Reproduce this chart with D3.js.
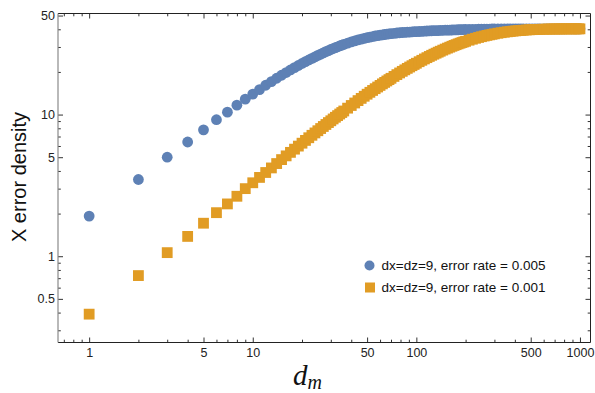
<!DOCTYPE html>
<html><head><meta charset="utf-8">
<script src="https://cdn.jsdelivr.net/npm/d3@7"></script>
<style>body{margin:0;background:#fff}</style>
</head><body><svg id="c" width="595" height="393"></svg>
<script>
// d_m values (integers, denser where the points separate)
const dm = [1,2,3,4,5,6,7,8,9,10,11,12,13,14,15,16,17,18,19,20,21,22,23,24,25,26,27,28,29,30,31,32,33,34,35,36,
  38,40,42,44,46,48,50,52,54,56,58,60,62,64,66,68,70,
  73,76,79,82,85,88,91,94,97,100,
  104,108,112,116,120,124,128,132,136,140,
  145,150,155,160,165,170,175,180,185,190,195,200,
  210,220,230,240,250,260,270,280,290,300,
  315,330,345,360,375,390,405,420,435,450,
  470,490,510,530,550,570,600,
  625,650,675,700,725,750,775,800,
  830,860,890,920,950,980,1000];
// X error density, error rate 0.005
const rate005 = [1.92,3.48,5.0,6.4,7.8,9.2,10.4,11.65,12.85,13.95,15.0,16.1,17.1,18.05,18.95,19.8,20.65,21.45,22.2,22.95,23.65,24.3,24.95,25.55,26.15,26.7,27.25,27.8,28.3,28.8,29.25,29.7,30.1,30.5,30.9,31.25,
  31.95,32.6,33.15,33.65,34.1,34.5,34.9,35.25,35.55,35.85,36.1,36.35,36.55,36.75,36.95,37.1,37.25,
  37.45,37.65,37.8,37.95,38.05,38.15,38.25,38.35,38.45,38.5,
  38.6,38.7,38.8,38.9,38.95,39.05,39.1,39.15,39.2,39.3,
  39.35,39.4,39.45,39.5,39.55,39.6,39.65,39.7,39.75,39.8,39.8,39.85,
  39.9,39.95,40.0,40.05,40.1,40.1,40.15,40.15,40.2,40.2,
  40.2,40.25,40.25,40.25,40.25,40.3,40.3,40.3,40.3,40.3,
  40.3,40.3,40.3,40.3,40.3,40.3,40.3,
  40.3,40.3,40.3,40.3,40.3,40.3,40.3,40.3,
  40.3,40.3,40.3,40.3,40.3,40.3,40.3];
// X error density, error rate 0.001
const rate001 = [0.39,0.73,1.06,1.38,1.71,2.03,2.34,2.65,3.0,3.3,3.6,3.9,4.2,4.51,4.81,5.11,5.41,5.7,5.99,6.28,6.57,6.86,7.14,7.42,7.69,7.97,8.24,8.51,8.78,9.04,9.31,9.57,9.83,10.09,10.34,10.6,
  11.1,11.59,12.07,12.55,13.01,13.47,13.92,14.36,14.8,15.23,15.65,16.06,16.47,16.87,17.27,17.65,18.03,
  18.59,19.14,19.67,20.19,20.69,21.19,21.66,22.13,22.58,23.03,
  23.61,24.16,24.7,25.22,25.72,26.21,26.68,27.13,27.57,28.0,
  28.51,29.0,29.46,29.91,30.35,30.76,31.15,31.54,31.9,32.25,32.58,32.9,
  33.5,34.05,34.56,35.03,35.46,35.85,36.21,36.54,36.85,37.13,
  37.51,37.84,38.14,38.39,38.62,38.82,39.0,39.15,39.29,39.41,
  39.55,39.67,39.76,39.85,39.92,39.98,40.05,
  40.1,40.14,40.17,40.19,40.21,40.23,40.24,40.25,
  40.26,40.27,40.28,40.28,40.29,40.29,40.29];

const seriesNames = ["dx=dz=9, error rate = 0.005", "dx=dz=9, error rate = 0.001"];
const seriesColors = ["#5E81B5", "#E19C24"];

const xMajor = [1,5,10,50,100,500,1000];
const xMinor = [0.7,0.8,0.9,2,3,4,6,7,8,9,20,30,40,60,70,80,90,200,300,400,600,700,800,900];
const yMajor = [0.5,1,5,10,50];
const yMinor = [0.3,0.4,0.6,0.7,0.8,0.9,2,3,4,6,7,8,9,20,30,40];

const L = 58, R = 590.5, T = 13.5, B = 342.5;
const svg = d3.select("#c");
const x = d3.scaleLog().domain([0.645, 1160]).range([L, R]);
const y = d3.scaleLog().domain([0.246, 51.7]).range([B, T]);

const font = "'Liberation Sans', Arial, Helvetica, sans-serif";
const fmt = d => String(d);

const data005 = dm.map((d, i) => ({d, v: rate005[i]}));
const data001 = dm.map((d, i) => ({d, v: rate001[i]}));

svg.append("clipPath").attr("id", "clip").append("rect")
  .attr("x", L).attr("y", T).attr("width", R - L).attr("height", B - T);
const plot = svg.append("g").attr("clip-path", "url(#clip)");

plot.append("g").selectAll("circle").data(data005).join("circle")
  .attr("cx", p => x(p.d)).attr("cy", p => y(p.v)).attr("r", 5.4)
  .attr("fill", seriesColors[0]);

const s = 10.8;
plot.append("g").selectAll("rect").data(data001).join("rect")
  .attr("x", p => x(p.d) - s/2).attr("y", p => y(p.v) - s/2)
  .attr("width", s).attr("height", s)
  .attr("fill", seriesColors[1]);

function styleAxis(g) {
  g.select(".domain").remove();
  g.selectAll(".tick line").attr("stroke", "#333");
  g.selectAll(".tick text").attr("fill", "#222").style("font-family", font).style("font-size", "12.5px");
}
svg.append("g").attr("transform", `translate(0,${B})`)
  .call(d3.axisBottom(x).tickValues(xMajor).tickFormat(fmt).tickSize(-5).tickPadding(6)).call(styleAxis);
svg.append("g").attr("transform", `translate(0,${B})`)
  .call(d3.axisBottom(x).tickValues(xMinor).tickFormat("").tickSize(-2.8)).call(styleAxis);
svg.append("g").attr("transform", `translate(0,${T})`)
  .call(d3.axisTop(x).tickValues(xMajor).tickFormat("").tickSize(-5)).call(styleAxis);
svg.append("g").attr("transform", `translate(0,${T})`)
  .call(d3.axisTop(x).tickValues(xMinor).tickFormat("").tickSize(-2.8)).call(styleAxis);
svg.append("g").attr("transform", `translate(${L},0)`)
  .call(d3.axisLeft(y).tickValues(yMajor).tickFormat(fmt).tickSize(-5).tickPadding(3)).call(styleAxis);
svg.append("g").attr("transform", `translate(${L},0)`)
  .call(d3.axisLeft(y).tickValues(yMinor).tickFormat("").tickSize(-2.8)).call(styleAxis);
svg.append("g").attr("transform", `translate(${R},0)`)
  .call(d3.axisRight(y).tickValues(yMajor).tickFormat("").tickSize(-5)).call(styleAxis);
svg.append("g").attr("transform", `translate(${R},0)`)
  .call(d3.axisRight(y).tickValues(yMinor).tickFormat("").tickSize(-2.8)).call(styleAxis);

svg.append("line").attr("x1", L).attr("x2", R).attr("y1", B).attr("y2", B).attr("stroke", "#222");
svg.append("line").attr("x1", L).attr("x2", R).attr("y1", T).attr("y2", T).attr("stroke", "#222");
svg.append("line").attr("x1", R).attr("x2", R).attr("y1", T).attr("y2", B).attr("stroke", "#222");
svg.append("line").attr("x1", L).attr("x2", L).attr("y1", T).attr("y2", B).attr("stroke", "#8a8a8a").attr("stroke-width", 1.2);

svg.append("text").attr("transform", "translate(26,177) rotate(-90)")
  .attr("text-anchor", "middle").style("font-family", font).style("font-size", "20px").attr("fill", "#111")
  .text("X error density");
const xl = svg.append("text").attr("x", 293).attr("y", 385)
  .style("font-family", "'Liberation Serif', 'Times New Roman', serif").style("font-style", "italic").attr("fill", "#111");
xl.append("tspan").style("font-size", "29px").text("d");
xl.append("tspan").style("font-size", "20px").attr("dy", 4).text("m");

const lg = svg.append("g").style("font-family", font).style("font-size", "13.5px");
lg.append("circle").attr("cx", 369.5).attr("cy", 265.5).attr("r", 5).attr("fill", seriesColors[0]);
lg.append("rect").attr("x", 365).attr("y", 282.5).attr("width", 10).attr("height", 10).attr("fill", seriesColors[1]);
lg.append("text").attr("x", 381.5).attr("y", 270).attr("fill", "#111").text(seriesNames[0]);
lg.append("text").attr("x", 381.5).attr("y", 292).attr("fill", "#111").text(seriesNames[1]);
</script>
</body></html>
